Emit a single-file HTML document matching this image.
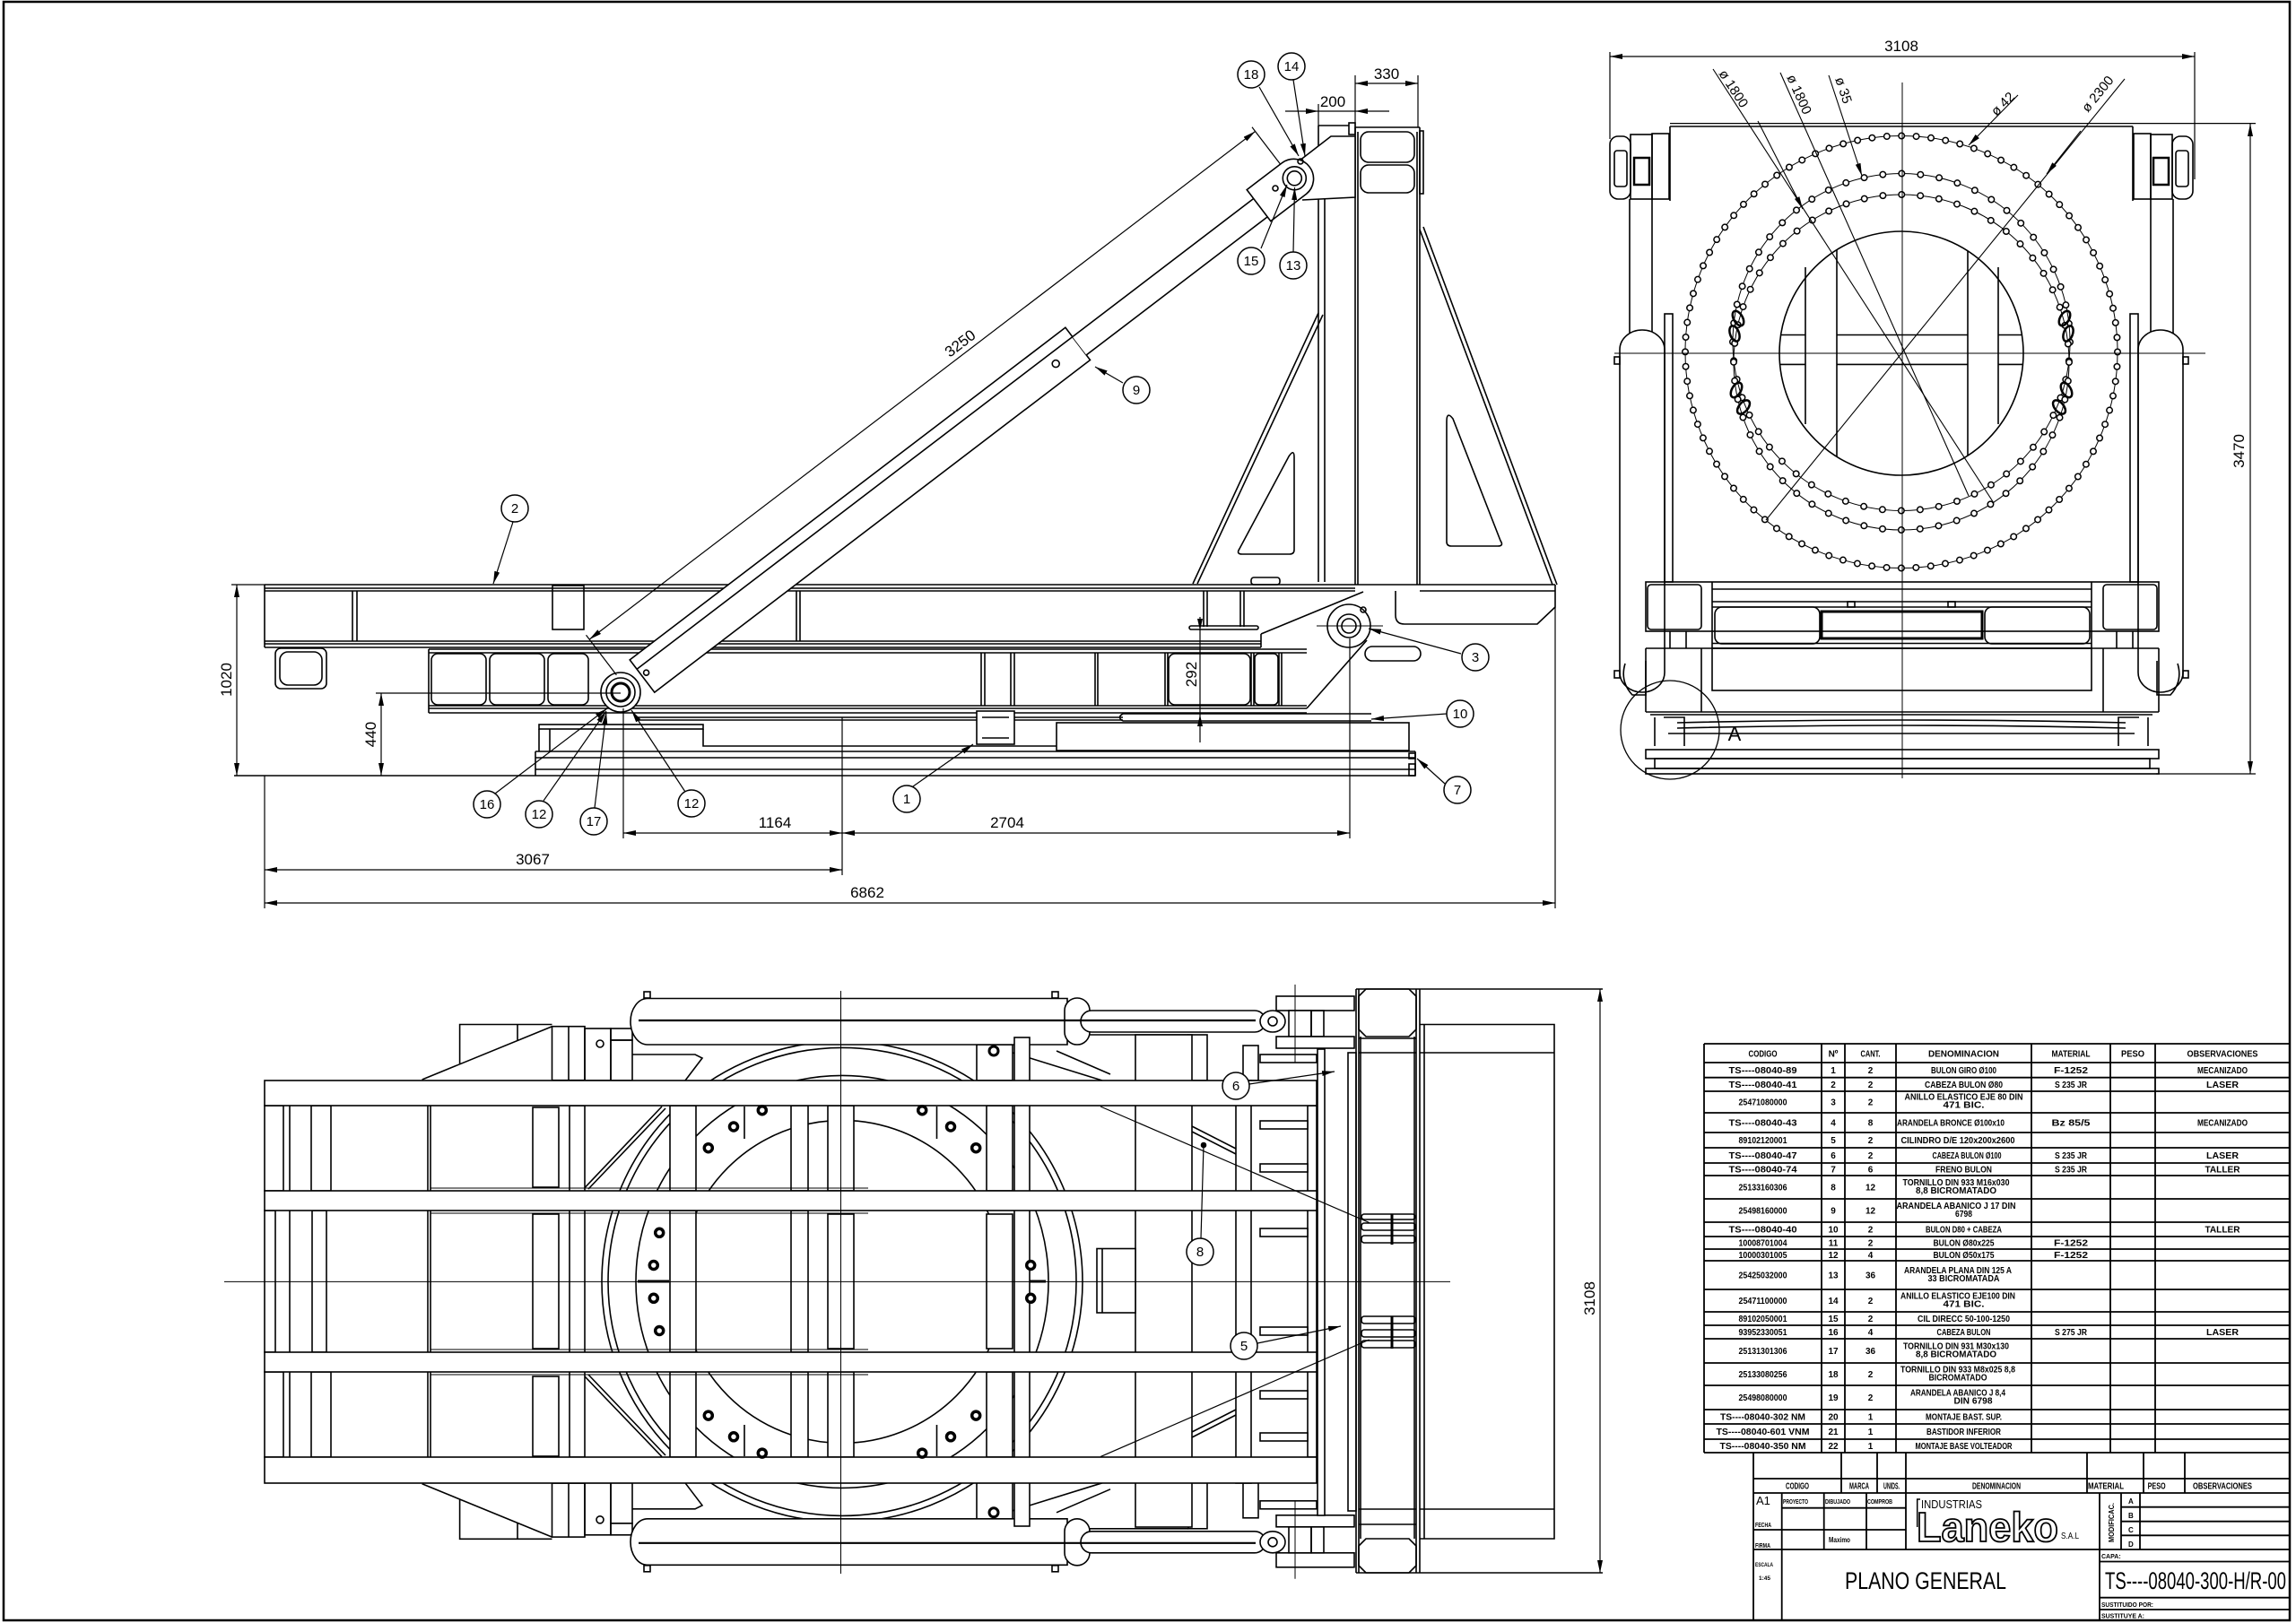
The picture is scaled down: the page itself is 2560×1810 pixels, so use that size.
<!DOCTYPE html>
<html><head><meta charset="utf-8"><style>
html,body{margin:0;padding:0;background:#fff}
svg{display:block}
.n{font-family:"Liberation Sans Narrow","Liberation Sans",sans-serif}
.t{font-family:"Liberation Sans Narrow","Liberation Sans",sans-serif;font-weight:bold;font-size:10px;text-anchor:middle}
.d{font-family:"Liberation Sans Narrow","Liberation Sans",sans-serif;font-size:17px;text-anchor:middle}
.b{font-family:"Liberation Sans Narrow","Liberation Sans",sans-serif;font-size:15px;text-anchor:middle}
</style></head><body>
<svg width="2560" height="1810" viewBox="0 0 2560 1810" xmlns="http://www.w3.org/2000/svg">
<defs>
<marker id="ar" viewBox="0 0 14 6" refX="14" refY="3" markerWidth="14" markerHeight="6" markerUnits="userSpaceOnUse" orient="auto-start-reverse"><path d="M0,0 L14,3 L0,6 z" fill="#000"/></marker>
<clipPath id="ic"><circle cx="2120" cy="394" r="136"/></clipPath>
</defs>
<rect x="0" y="0" width="2560" height="1810" fill="#fff"/>
<!-- page border -->
<rect x="4" y="2" width="2549" height="1805" fill="none" stroke="#000" stroke-width="2.5"/>

<!-- ================= SIDE VIEW ================= -->
<g stroke="#000" fill="none" stroke-width="1.6">
<!-- main beam -->
<path d="M295 652 H1734 M295 656 H1511 M295 659 H1511 M1583 659 H1734 M295 715 H1406 M295 718 H1406 M295 722 H1406 M295 652 V722"/>
<path d="M1734 652 V677 L1714 696 H1566 Q1556 696 1556 686 V659"/>
<path d="M393 659 V715 M398 659 V715 M888 659 V715 M892 659 V715"/>
<rect x="616" y="653" width="35" height="49"/>
<path d="M1342 659 V699 M1346 659 V699 M1383 659 V699 M1387 659 V699"/>
<rect x="1326" y="698" width="77" height="4" rx="2"/>
<rect x="1395" y="644" width="32" height="8" rx="3"/>
<rect x="307" y="723" width="57" height="45" rx="6"/>
<rect x="312" y="727" width="47" height="37" rx="9"/>
<!-- lower frame -->
<path d="M478 724 H1457 M478 728 H1457 M478 787 H1457 M478 790 H1457 M478 795 H1457 M478 724 V795"/>
<rect x="481" y="729" width="61" height="57" rx="7"/>
<rect x="546" y="729" width="61" height="57" rx="7"/>
<rect x="611" y="729" width="45" height="57" rx="7"/>
<path d="M1094 728 V787 M1098 728 V787 M1127 728 V787 M1131 728 V787 M1221 728 V787 M1224 728 V787 M1299 728 V787 M1302 728 V787 M1395 728 V787 M1398 728 V787 M1426 728 V787 M1429 728 V787"/>
<rect x="1303" y="729" width="91" height="57" rx="7"/>
<rect x="1399" y="729" width="26" height="57" rx="5"/>
<!-- lever plate & pin -->
<path d="M1406 707 L1520 660 M1406 707 V722 M1457 790 L1524 714" fill="#fff"/>
<rect x="1522" y="721" width="62" height="16" rx="8"/>
<circle cx="1504" cy="698" r="24" fill="#fff"/>
<circle cx="1504" cy="698" r="13"/>
<circle cx="1504" cy="698" r="8"/>
<circle cx="1520" cy="680" r="3"/>
<path d="M1468 698 H1542" stroke-width="1"/>
<!-- mast -->
<path d="M1470 140 V649 M1477 222 V649 M1470 140 H1504 M1511 142 V652 M1514 147 V652 M1580 147 V652 M1583 142 V652 M1511 142 H1583"/>
<rect x="1517" y="147" width="60" height="34" rx="9"/>
<rect x="1517" y="184" width="60" height="31" rx="9"/>
<rect x="1504" y="137" width="7" height="13"/>
<rect x="1583" y="146" width="4" height="70"/>
<path d="M1440 186 L1484 152 H1511 V220 L1452 223" fill="#fff"/>
<!-- gussets -->
<path d="M1470 349 L1330 651 M1475 351 L1335 651 M1583 256 L1731 652 M1587 253 L1736 652"/>
<path d="M1443 510 V613 Q1443 618 1438 618 H1385 Q1378 618 1382 612 L1437 509 Q1443 500 1443 510 Z"/>
<path d="M1613 470 V604 Q1613 609 1618 609 H1670 Q1677 609 1673 603 L1620 467 Q1613 458 1613 470 Z"/>
<!-- base -->
<path d="M709 800 H1252 M709 803 H1252"/>
<path d="M1252 804 Q1245 800 1252 796 H1529 M1252 804 H1529"/>
<rect x="601" y="808" width="183" height="5"/>
<path d="M784 813 V832 H1178"/>
<rect x="1178" y="806" width="393" height="31"/>
<path d="M597 838 H1578 M597 845 H1578 M597 858 H1578 M261 865 H1578 M597 838 V865 M601 813 V838 M613 813 V838 M1578 838 V865"/>
<rect x="1571" y="840" width="7" height="6"/>
<rect x="1571" y="852" width="7" height="13"/>
<rect x="1089" y="793" width="42" height="37" fill="#fff"/>
<path d="M1095 800 H1125 M1095 823 H1125"/>
<!-- arm (cylinder) -->
<path d="M702.2 735.9 L1187.9 365.3 L1215.5 401.5 L729.8 772.1 Z" fill="#fff"/>
<path d="M710.1 746.2 L1195.8 375.6"/>
<path d="M1195.8 375.6 L1405.7 215.4 L1421.2 235.7 L1211.3 395.9" fill="#fff"/>
<path d="M1390.2 211.6 L1430 181.3 A22 22 0 0 1 1456.6 216.3 L1416.8 246.6 Z" fill="#fff"/>
<circle cx="1443.3" cy="198.8" r="13" fill="#fff"/>
<circle cx="1443.3" cy="198.8" r="8"/>
<circle cx="1422" cy="210" r="3"/>
<circle cx="1450" cy="180" r="3"/>
<circle cx="1177.2" cy="405.6" r="4"/>
<circle cx="692" cy="772" r="22" fill="#fff"/>
<circle cx="692" cy="772" r="16"/>
<circle cx="692" cy="772" r="10" stroke-width="3"/>
<circle cx="720.6" cy="750.2" r="3"/>
<!-- dimension 3250 -->
<path d="M657.1 713.1 L1399.6 146.5" stroke-width="1.2" marker-start="url(#ar)" marker-end="url(#ar)"/>
<path d="M653.5 708.3 L687.4 752.8 M1396 141.8 L1427.6 183.1" stroke-width="1.2"/>
<!-- dimensions -->
<g stroke-width="1.2">
<path d="M695 929 H939" marker-start="url(#ar)" marker-end="url(#ar)"/>
<path d="M939 929 H1505" marker-start="url(#ar)" marker-end="url(#ar)"/>
<path d="M295 970 H939" marker-start="url(#ar)" marker-end="url(#ar)"/>
<path d="M295 1007 H1734" marker-start="url(#ar)" marker-end="url(#ar)"/>
<path d="M264 652 V865" marker-start="url(#ar)" marker-end="url(#ar)"/>
<path d="M425 773 V865" marker-start="url(#ar)" marker-end="url(#ar)"/>
<path d="M1511 93 H1581" marker-start="url(#ar)" marker-end="url(#ar)"/>
<path d="M1433 124 H1549"/>
<path d="M1338 688 V828"/>
<path d="M295 865 V1013 M695 790 V935 M939 800 V976 M1505 712 V935 M1734 677 V1013 M258 652 H295 M419 773 H692 M1470 116 V140 M1511 84 V142 M1581 84 V142"/>
</g>
<path d="M1470 124 L1456 121 L1456 127 Z M1511 124 L1525 121 L1525 127 Z M1338 703 L1335 690 L1341 690 Z M1338 797 L1335 810 L1341 810 Z" fill="#000" stroke="none"/>
<!-- leaders -->
<g stroke-width="1.2">
<path d="M572 582 L550 651" marker-end="url(#ar)"/>
<path d="M552 885 L677 790" marker-end="url(#ar)"/>
<path d="M606 893 L676 793" marker-end="url(#ar)"/>
<path d="M663 901 L676 794" marker-end="url(#ar)"/>
<path d="M764 883 L704 792" marker-end="url(#ar)"/>
<path d="M1018 877 L1085 830" marker-end="url(#ar)"/>
<path d="M1404 97 L1448 174" marker-end="url(#ar)"/>
<path d="M1442 89 L1455 174" marker-end="url(#ar)"/>
<path d="M1406 277 L1435 206" marker-end="url(#ar)"/>
<path d="M1442 281 L1443.5 209" marker-end="url(#ar)"/>
<path d="M1252 427 L1221 409" marker-end="url(#ar)"/>
<path d="M1629 729 L1526 701" marker-end="url(#ar)"/>
<path d="M1613 796 L1529 802" marker-end="url(#ar)"/>
<path d="M1611 874 L1580 846" marker-end="url(#ar)"/>
</g>
<g fill="#fff" stroke-width="1.5">
<circle cx="574" cy="567" r="15"/><circle cx="543" cy="897" r="15"/><circle cx="601" cy="908" r="15"/><circle cx="662" cy="916" r="15"/><circle cx="771" cy="896" r="15"/><circle cx="1011" cy="891" r="15"/>
<circle cx="1395" cy="83" r="15"/><circle cx="1440" cy="74" r="15"/><circle cx="1395" cy="291" r="15"/><circle cx="1442" cy="296" r="15"/><circle cx="1267" cy="435" r="15"/><circle cx="1645" cy="733" r="15"/><circle cx="1628" cy="796" r="15"/><circle cx="1625" cy="881" r="15"/>
</g>
</g>
<g class="b" fill="#000">
<text x="574" y="572">2</text><text x="543" y="902">16</text><text x="601" y="913">12</text><text x="662" y="921">17</text><text x="771" y="901">12</text><text x="1011" y="896">1</text>
<text x="1395" y="88">18</text><text x="1440" y="79">14</text><text x="1395" y="296">15</text><text x="1442" y="301">13</text><text x="1267" y="440">9</text><text x="1645" y="738">3</text><text x="1628" y="801">10</text><text x="1625" y="886">7</text>
</g>
<g class="d" fill="#000">
<text x="864" y="923">1164</text>
<text x="1123" y="923">2704</text>
<text x="594" y="964">3067</text>
<text x="967" y="1001">6862</text>
<text x="1486" y="119">200</text>
<text x="1546" y="88">330</text>
<text transform="translate(258 758) rotate(-90)">1020</text>
<text transform="translate(419 819) rotate(-90)">440</text>
<text transform="translate(1334 752) rotate(-90)">292</text>
<text transform="translate(1074 387.5) rotate(-37.34)">3250</text>
</g>

<!-- ================= FRONT VIEW ================= -->
<g stroke="#000" fill="none" stroke-width="1.6">
<path d="M1862 141 H2378 M1862 141 V224 M2378 141 V224"/>
<g id="rvl">
<rect x="1795" y="152" width="23" height="70" rx="9"/>
<rect x="1818" y="150" width="24" height="72"/>
<rect x="1842" y="149" width="19" height="73"/>
<rect x="1822" y="176" width="17" height="30" stroke-width="2.5"/>
<rect x="1800" y="168" width="14" height="40" rx="3"/>
<path d="M1817 222 V372 M1842 222 V372"/>
<rect x="1806" y="368" width="50" height="404" rx="25" ry="22" fill="#fff"/>
<rect x="1856" y="350" width="9" height="299"/>
<rect x="1800" y="398" width="6" height="8"/>
<rect x="1800" y="748" width="6" height="8"/>
<path d="M1812 740 Q1806 760 1820 775 H1835 V737"/>
</g>
<g transform="matrix(-1 0 0 1 4240 0)">
<rect x="1795" y="152" width="23" height="70" rx="9"/>
<rect x="1818" y="150" width="24" height="72"/>
<rect x="1842" y="149" width="19" height="73"/>
<rect x="1822" y="176" width="17" height="30" stroke-width="2.5"/>
<rect x="1800" y="168" width="14" height="40" rx="3"/>
<path d="M1817 222 V372 M1842 222 V372"/>
<rect x="1806" y="368" width="50" height="404" rx="25" ry="22" fill="#fff"/>
<rect x="1856" y="350" width="9" height="299"/>
<rect x="1800" y="398" width="6" height="8"/>
<rect x="1800" y="748" width="6" height="8"/>
<path d="M1812 740 Q1806 760 1820 775 H1835 V737"/>
</g>
<!-- bolt rings -->
<circle cx="2120" cy="392.5" r="241" stroke-width="1"/>
<circle cx="2120" cy="392.5" r="241" stroke-width="8" stroke-linecap="round" stroke-dasharray="0 16.459"/>
<circle cx="2120" cy="392.5" r="241" stroke="#fff" stroke-width="5" stroke-linecap="round" stroke-dasharray="0 16.459"/>
<circle cx="2120" cy="381.5" r="188" stroke-width="1"/>
<circle cx="2120" cy="381.5" r="188" stroke-width="8" stroke-linecap="round" stroke-dasharray="0 21.093"/>
<circle cx="2120" cy="381.5" r="188" stroke="#fff" stroke-width="5" stroke-linecap="round" stroke-dasharray="0 21.093"/>
<circle cx="2120" cy="404" r="187" stroke-width="1"/>
<circle cx="2120" cy="404" r="187" stroke-width="8" stroke-linecap="round" stroke-dasharray="0 20.98"/>
<circle cx="2120" cy="404" r="187" stroke="#fff" stroke-width="5" stroke-linecap="round" stroke-dasharray="0 20.98"/>
<g stroke-width="2.5">
<ellipse cx="1938" cy="355" rx="5" ry="9" transform="rotate(-30 1938 355)"/>
<ellipse cx="1934" cy="372" rx="5" ry="9" transform="rotate(-20 1934 372)"/>
<ellipse cx="1936" cy="435" rx="5" ry="9" transform="rotate(30 1936 435)"/>
<ellipse cx="1944" cy="454" rx="5" ry="9" transform="rotate(40 1944 454)"/>
<ellipse cx="2302" cy="355" rx="5" ry="9" transform="rotate(30 2302 355)"/>
<ellipse cx="2306" cy="372" rx="5" ry="9" transform="rotate(20 2306 372)"/>
<ellipse cx="2304" cy="435" rx="5" ry="9" transform="rotate(-30 2304 435)"/>
<ellipse cx="2296" cy="454" rx="5" ry="9" transform="rotate(-40 2296 454)"/>
</g>
<circle cx="2120" cy="394" r="136"/>
<g clip-path="url(#ic)">
<path d="M2048 250 V540 M2194 250 V540 M1980 373.5 H2013 M2048 373.5 H2194 M2228 373.5 H2260 M1980 406.4 H2013 M2048 406.4 H2194 M2228 406.4 H2260"/>
</g>
<path d="M2013 298 V473 M2228 298 V473"/>
<!-- center lines -->
<path d="M2121 92 V868 M1800 394 H2459" stroke-width="1"/>
<!-- diameter leaders -->
<g stroke-width="1.1">
<path d="M1910 77 L2223 561"/>
<path d="M1985 81 L2195 553"/>
<path d="M2039 84 L2076 196" marker-end="url(#ar)"/>
<path d="M2250 106 L2195 162" marker-end="url(#ar)"/>
<path d="M2369 88 L1969 580"/>
<path d="M2320 146 L2282 194" marker-end="url(#ar)"/>
<path d="M1960 135 L2010 233" marker-end="url(#ar)"/>
</g>
<!-- lower base -->
<rect x="1835" y="649" width="572" height="55"/>
<rect x="1837" y="652" width="60" height="50" rx="4"/>
<rect x="2345" y="652" width="60" height="50" rx="4"/>
<path d="M1909 649 V723 M2332 649 V723 M1909 657 H2332 M1909 671 H2332 M1909 677 H2332 M1909 717.5 H2332 M1909 723 H2332"/>
<rect x="1912" y="677" width="117" height="41" rx="8"/>
<rect x="2031" y="682" width="179" height="30" stroke-width="3"/>
<rect x="2213" y="677" width="117" height="41" rx="8"/>
<rect x="2060" y="671" width="8" height="6"/><rect x="2172" y="671" width="8" height="6"/>
<path d="M1862 704 V723 M1880 704 V723 M2360 704 V723 M2378 704 V723"/>
<path d="M1835 723 H2407 M1835 794 H2407 M1835 723 V794 M2407 723 V794 M1897 723 V794 M2345 723 V794"/>
<rect x="1909" y="723" width="423" height="47"/>
<path d="M1840 797 H2400 M1845 800 V832 M2395 800 V832 M1870 806 Q2120 800 2370 806 M1870 812 Q2120 806 2370 812 M1860 818 H2380 M1855 800 H1878 V832 M2385 800 H2362 V832"/>
<rect x="1835" y="836" width="572" height="10"/>
<rect x="1845" y="846" width="552" height="11"/>
<rect x="1835" y="857" width="572" height="6"/>
<circle cx="1862" cy="814" r="55" stroke-width="1.3"/>
<!-- dims -->
<g stroke-width="1.2">
<path d="M1795 63 H2447" marker-start="url(#ar)" marker-end="url(#ar)"/>
<path d="M2509 138 V863" marker-start="url(#ar)" marker-end="url(#ar)"/>
<path d="M1795 58 V155 M2447 58 V200 M1862 137.6 H2515 M2404 863 H2515"/>
</g>
</g>
<g class="d" fill="#000">
<text x="2120" y="57">3108</text>
<text transform="translate(2502 503) rotate(-90)">3470</text>
<text x="1934" y="826" font-size="22">A</text>
</g>
<g class="n" fill="#000" font-size="15">
<text transform="translate(1916 82) rotate(57)">ø 1800</text>
<text transform="translate(1992 86) rotate(66)">ø 1800</text>
<text transform="translate(2046 88) rotate(71.6)">ø 35</text>
<text transform="translate(2226 130) rotate(-45)">ø 42</text>
<text transform="translate(2328 126) rotate(-51)">ø 2300</text>
</g>

<!-- ================= TOP VIEW ================= -->
<g stroke="#000" fill="none" stroke-width="1.6">
<!-- ring -->
<circle cx="939" cy="1429.4" r="268"/>
<circle cx="939" cy="1429.4" r="261"/>
<circle cx="939" cy="1429.4" r="230"/>
<circle cx="939" cy="1429.4" r="180"/>
<!-- top cylinder group (mirrored below) -->
<g id="tvtop">
<path d="M470.6 1204 L615.5 1144.7 M512.6 1186 V1142.5 H615.5 M577 1142.5 V1160"/>
<rect x="615.5" y="1144.7" width="36.5" height="60" fill="#fff"/>
<path d="M634 1144.7 V1204.7"/>
<rect x="652" y="1147" width="29" height="58"/>
<circle cx="669" cy="1164" r="4"/>
<rect x="681" y="1147" width="24" height="13"/>
<rect x="681" y="1160" width="24" height="45"/>
<path d="M705 1176 H775 L783 1180 L764 1205"/>
<path d="M1129 1174 L1229 1205 M1178 1172 L1238 1198"/>
<rect x="1089" y="1165" width="40" height="40"/>
<circle cx="1108" cy="1172" r="5" stroke-width="3"/>
<path d="M1211 1154 H1325"/>
<rect x="1325" y="1154" width="21" height="51"/>
<rect x="1386" y="1166" width="17" height="39"/>
<rect x="1405" y="1176" width="63" height="9"/>
<path d="M722 1113.5 H1190 V1165 H722 A19 25.75 0 0 1 722 1113.5 Z" fill="#fff"/>
<rect x="1187" y="1113" width="28" height="52" rx="14" fill="#fff"/>
<rect x="1205" y="1127" width="206" height="24" rx="12" fill="#fff"/>
<path d="M712 1138 H1400" stroke-width="2.2"/>
<rect x="718" y="1106" width="7" height="7"/>
<rect x="1173" y="1106" width="7" height="7"/>
<rect x="1423" y="1111" width="87" height="16" fill="#fff"/>
<rect x="1437" y="1127" width="25" height="29" fill="#fff"/>
<rect x="1462" y="1127" width="14" height="29"/>
<rect x="1423" y="1156" width="87" height="13" fill="#fff"/>
<ellipse cx="1419" cy="1139" rx="14" ry="12" fill="#fff"/>
<circle cx="1419" cy="1139" r="5"/>
<path d="M1444 1098 V1185" stroke-width="1"/>
</g>
<g transform="matrix(1 0 0 -1 0 2858.8)">
<path d="M470.6 1204 L615.5 1144.7 M512.6 1186 V1142.5 H615.5 M577 1142.5 V1160"/>
<rect x="615.5" y="1144.7" width="36.5" height="60" fill="#fff"/>
<path d="M634 1144.7 V1204.7"/>
<rect x="652" y="1147" width="29" height="58"/>
<circle cx="669" cy="1164" r="4"/>
<rect x="681" y="1147" width="24" height="13"/>
<rect x="681" y="1160" width="24" height="45"/>
<path d="M705 1176 H775 L783 1180 L764 1205"/>
<path d="M1129 1174 L1229 1205 M1178 1172 L1238 1198"/>
<rect x="1089" y="1165" width="40" height="40"/>
<circle cx="1108" cy="1172" r="5" stroke-width="3"/>
<path d="M1211 1154 H1325"/>
<rect x="1325" y="1154" width="21" height="51"/>
<rect x="1386" y="1166" width="17" height="39"/>
<rect x="1405" y="1176" width="63" height="9"/>
<path d="M722 1113.5 H1190 V1165 H722 A19 25.75 0 0 1 722 1113.5 Z" fill="#fff"/>
<rect x="1187" y="1113" width="28" height="52" rx="14" fill="#fff"/>
<rect x="1205" y="1127" width="206" height="24" rx="12" fill="#fff"/>
<path d="M712 1138 H1400" stroke-width="2.2"/>
<rect x="718" y="1106" width="7" height="7"/>
<rect x="1173" y="1106" width="7" height="7"/>
<rect x="1423" y="1111" width="87" height="16" fill="#fff"/>
<rect x="1437" y="1127" width="25" height="29" fill="#fff"/>
<rect x="1462" y="1127" width="14" height="29"/>
<rect x="1423" y="1156" width="87" height="13" fill="#fff"/>
<ellipse cx="1419" cy="1139" rx="14" ry="12" fill="#fff"/>
<circle cx="1419" cy="1139" r="5"/>
<path d="M1444 1098 V1185" stroke-width="1"/>
</g>
<!-- members between beams -->
<g fill="#fff">
<rect x="295" y="1233" width="21" height="95"/><rect x="347" y="1233" width="22" height="95"/>
<rect x="295" y="1530" width="21" height="95"/><rect x="347" y="1530" width="22" height="95"/>
<rect x="295" y="1350" width="12" height="158"/><rect x="348" y="1350" width="16" height="158"/>
<rect x="594" y="1235" width="29" height="89"/><rect x="594" y="1354" width="29" height="150"/><rect x="594" y="1535" width="29" height="89"/>
<rect x="635" y="1233" width="17" height="392"/>
<rect x="747" y="1233" width="29" height="95"/><rect x="747" y="1350" width="29" height="158"/><rect x="747" y="1530" width="29" height="95"/>
<rect x="882" y="1233" width="19" height="95"/><rect x="882" y="1350" width="19" height="158"/><rect x="882" y="1530" width="19" height="95"/>
<rect x="923" y="1233" width="29" height="95"/><rect x="923" y="1354" width="29" height="150"/><rect x="923" y="1530" width="29" height="95"/>
<rect x="1100" y="1233" width="29" height="95"/><rect x="1100" y="1354" width="29" height="150"/><rect x="1100" y="1530" width="29" height="95"/>
<rect x="1131" y="1157" width="17" height="545"/>
<rect x="1266" y="1154" width="63" height="549"/>
<rect x="1378" y="1205" width="17" height="449"/>
<rect x="1458" y="1233" width="10" height="392"/>
</g>
<path d="M323 1233 V1625 M477 1233 V1625 M480 1233 V1625"/>
<path d="M480 1325 H968 M480 1353 H968 M480 1505 H968 M480 1533 H968" stroke-width="1"/>
<!-- beams -->
<rect x="295" y="1205" width="1173" height="28" fill="#fff"/>
<rect x="295" y="1328" width="1173" height="22" fill="#fff"/>
<rect x="295" y="1508" width="1173" height="22" fill="#fff"/>
<rect x="295" y="1625" width="1173" height="29" fill="#fff"/>
<!-- fingers -->
<g fill="#fff">
<rect x="1405" y="1250" width="53" height="9"/><rect x="1405" y="1298" width="53" height="9"/><rect x="1405" y="1370" width="53" height="9"/><rect x="1405" y="1480" width="53" height="9"/><rect x="1405" y="1551" width="53" height="9"/><rect x="1405" y="1598" width="53" height="9"/>
</g>
<!-- bolt holes -->
<g stroke-width="3.5" fill="#fff">
<circle cx="735.2" cy="1484" r="4.5"/><circle cx="728.8" cy="1447.8" r="4.5"/><circle cx="728.8" cy="1411" r="4.5"/><circle cx="735.2" cy="1374.8" r="4.5"/>
<circle cx="789.8" cy="1280.2" r="4.5"/><circle cx="818" cy="1256.5" r="4.5"/><circle cx="849.8" cy="1238.2" r="4.5"/>
<circle cx="1028.2" cy="1238.2" r="4.5"/><circle cx="1060" cy="1256.5" r="4.5"/><circle cx="1088.2" cy="1280.2" r="4.5"/>
<circle cx="1149.2" cy="1411" r="4.5"/><circle cx="1149.2" cy="1447.8" r="4.5"/>
<circle cx="1088.2" cy="1578.6" r="4.5"/><circle cx="1060" cy="1602.3" r="4.5"/><circle cx="1028.2" cy="1620.6" r="4.5"/>
<circle cx="849.8" cy="1620.6" r="4.5"/><circle cx="818" cy="1602.3" r="4.5"/><circle cx="789.8" cy="1578.6" r="4.5"/>
</g>
<path d="M711 1429 H746 M1148 1429 H1166" stroke-width="3"/>
<path d="M830 1234 V1270 M1044.5 1234 V1270 M830 1589 V1624 M1044.5 1589 V1624"/>
<!-- diagonals -->
<path d="M652 1324.6 L738 1234 M656 1326 L742 1236 M652 1535 L738 1624.6 M656 1533 L742 1623"/>
<path d="M1329 1256 L1378 1281 M1329 1262 L1378 1287 M1329 1603 L1378 1578 M1329 1597 L1378 1572"/>
<rect x="1223" y="1392.5" width="43" height="71.5" fill="#fff"/>
<path d="M1229 1392.5 V1464"/>
<!-- right part -->
<rect x="1469" y="1170" width="8" height="520" fill="#fff"/>
<rect x="1503" y="1174" width="9" height="511" fill="#fff"/>
<path d="M1512 1103 V1754 M1515 1103 V1754 M1517 1156 V1716 M1577 1156 V1716 M1579 1103 V1754 M1583 1103 V1754"/>
<path d="M1523 1103 H1571 L1579 1111 V1148 L1571 1156 H1523 L1515 1148 V1111 Z"/>
<path d="M1523 1754 H1571 L1579 1746 V1724 L1571 1716 H1523 L1515 1724 V1746 Z"/>
<path d="M1515 1158 H1579 M1515 1174 H1579 M1515 1683 H1579 M1515 1700 H1579"/>
<rect x="1518" y="1354" width="60" height="6" rx="3"/><rect x="1518" y="1364" width="60" height="8" rx="3"/><rect x="1518" y="1378" width="60" height="8" rx="3"/>
<rect x="1518" y="1468" width="60" height="8" rx="3"/><rect x="1518" y="1483" width="60" height="8" rx="3"/><rect x="1518" y="1495" width="60" height="8" rx="3"/>
<path d="M1552 1354 V1388 M1552 1468 V1504" stroke-width="3"/>
<path d="M1512 1103 H1787 M1512 1754 H1787 M1583 1142.5 H1733 V1716 H1583 M1583 1174 H1733 M1583 1683 H1733 M1588 1142.5 V1716"/>
<path d="M1784 1103 V1754" stroke-width="1.2" marker-start="url(#ar)" marker-end="url(#ar)"/>
<!-- center lines -->
<path d="M250 1429.4 H1617 M937.5 1105 V1755" stroke-width="1"/>
<!-- long leaders -->
<path d="M1227 1234 L1526.7 1363.5 M1227 1624.6 L1526.7 1494" stroke-width="1.2"/>
<path d="M1393 1209 L1488 1195" stroke-width="1.2" marker-end="url(#ar)"/>
<path d="M1339 1381 L1342 1277" stroke-width="1.2"/>
<circle cx="1342" cy="1277" r="2.5" fill="#000"/>
<path d="M1402 1498 L1495 1479" stroke-width="1.2" marker-end="url(#ar)"/>
<g fill="#fff" stroke-width="1.5">
<circle cx="1378" cy="1211" r="15"/><circle cx="1338" cy="1396" r="15"/><circle cx="1387" cy="1501" r="15"/>
</g>
</g>
<g class="b" fill="#000">
<text x="1378" y="1216">6</text><text x="1338" y="1401">8</text><text x="1387" y="1506">5</text>
</g>
<text class="d" transform="translate(1778 1448) rotate(-90)" fill="#000">3108</text>

<!-- ================= PARTS TABLE ================= -->
<g stroke="#000" stroke-width="1.8" fill="none">
<path d="M1900 1164 H2553 M1900 1185 H2553 M1900 1201.7 H2553 M1900 1217 H2553 M1900 1241 H2553 M1900 1263 H2553 M1900 1280 H2553 M1900 1297 H2553 M1900 1311 H2553 M1900 1337 H2553 M1900 1363 H2553 M1900 1379 H2553 M1900 1393 H2553 M1900 1406 H2553 M1900 1438 H2553 M1900 1463 H2553 M1900 1478 H2553 M1900 1493 H2553 M1900 1520 H2553 M1900 1545 H2553 M1900 1572 H2553 M1900 1588 H2553 M1900 1605 H2553 M1900 1620 H2553"/>
<path d="M1900 1164 V1620 M2031 1164 V1620 M2057 1164 V1620 M2114 1164 V1620 M2265 1164 V1620 M2353 1164 V1620 M2403 1164 V1620"/>
</g>
<g class="t" fill="#000" lengthAdjust="spacingAndGlyphs">
<text x="1965.5" y="1178.5" textLength="32" lengthAdjust="spacingAndGlyphs">CODIGO</text><text x="2044" y="1178.5">Nº</text><text x="2085.5" y="1178.5" textLength="22" lengthAdjust="spacingAndGlyphs">CANT.</text><text x="2189.5" y="1178.5" textLength="79" lengthAdjust="spacingAndGlyphs">DENOMINACION</text><text x="2309" y="1178.5" textLength="43" lengthAdjust="spacingAndGlyphs">MATERIAL</text><text x="2378" y="1178.5" textLength="26" lengthAdjust="spacingAndGlyphs">PESO</text><text x="2478" y="1178.5" textLength="79" lengthAdjust="spacingAndGlyphs">OBSERVACIONES</text>

<text x="1965.5" y="1197" textLength="76" lengthAdjust="spacingAndGlyphs">TS----08040-89</text><text x="2044" y="1197">1</text><text x="2085.5" y="1197">2</text><text x="2189.5" y="1197" textLength="73" lengthAdjust="spacingAndGlyphs">BULON GIRO Ø100</text><text x="2309" y="1197" textLength="38" lengthAdjust="spacingAndGlyphs">F-1252</text><text x="2478" y="1197" textLength="56" lengthAdjust="spacingAndGlyphs">MECANIZADO</text>

<text x="1965.5" y="1213" textLength="76" lengthAdjust="spacingAndGlyphs">TS----08040-41</text><text x="2044" y="1213">2</text><text x="2085.5" y="1213">2</text><text x="2189.5" y="1213" textLength="87" lengthAdjust="spacingAndGlyphs">CABEZA BULON  Ø80</text><text x="2309" y="1213" textLength="36" lengthAdjust="spacingAndGlyphs">S 235 JR</text><text x="2478" y="1213" textLength="36" lengthAdjust="spacingAndGlyphs">LASER</text>

<text x="1965.5" y="1232.5" textLength="54" lengthAdjust="spacingAndGlyphs">25471080000</text><text x="2044" y="1232.5">3</text><text x="2085.5" y="1232.5">2</text><text x="2189.5" y="1226.5" textLength="132" lengthAdjust="spacingAndGlyphs">ANILLO ELASTICO EJE 80 DIN</text><text x="2189.5" y="1235.5" textLength="46" lengthAdjust="spacingAndGlyphs">471 BIC.</text>

<text x="1965.5" y="1255.7" textLength="76" lengthAdjust="spacingAndGlyphs">TS----08040-43</text><text x="2044" y="1255.7">4</text><text x="2085.5" y="1255.7">8</text><text x="2175" y="1255.7" textLength="120" lengthAdjust="spacingAndGlyphs">ARANDELA BRONCE Ø100x10</text><text x="2309" y="1255.7" textLength="43" lengthAdjust="spacingAndGlyphs">Bz 85/5</text><text x="2478" y="1255.7" textLength="56" lengthAdjust="spacingAndGlyphs">MECANIZADO</text>

<text x="1965.5" y="1275" textLength="54" lengthAdjust="spacingAndGlyphs">89102120001</text><text x="2044" y="1275">5</text><text x="2085.5" y="1275">2</text><text x="2183" y="1275" textLength="127" lengthAdjust="spacingAndGlyphs">CILINDRO D/E 120x200x2600</text>

<text x="1965.5" y="1292" textLength="76" lengthAdjust="spacingAndGlyphs">TS----08040-47</text><text x="2044" y="1292">6</text><text x="2085.5" y="1292">2</text><text x="2193" y="1292" textLength="77" lengthAdjust="spacingAndGlyphs">CABEZA BULON  Ø100</text><text x="2309" y="1292" textLength="36" lengthAdjust="spacingAndGlyphs">S 235 JR</text><text x="2478" y="1292" textLength="36" lengthAdjust="spacingAndGlyphs">LASER</text>

<text x="1965.5" y="1307.5" textLength="76" lengthAdjust="spacingAndGlyphs">TS----08040-74</text><text x="2044" y="1307.5">7</text><text x="2085.5" y="1307.5">6</text><text x="2189.5" y="1307.5" textLength="63" lengthAdjust="spacingAndGlyphs">FRENO BULON</text><text x="2309" y="1307.5" textLength="36" lengthAdjust="spacingAndGlyphs">S 235 JR</text><text x="2478" y="1307.5" textLength="39" lengthAdjust="spacingAndGlyphs">TALLER</text>

<text x="1965.5" y="1327.5" textLength="54" lengthAdjust="spacingAndGlyphs">25133160306</text><text x="2044" y="1327.5">8</text><text x="2085.5" y="1327.5">12</text><text x="2181" y="1322" textLength="119" lengthAdjust="spacingAndGlyphs">TORNILLO DIN 933 M16x030</text><text x="2181" y="1331" textLength="90" lengthAdjust="spacingAndGlyphs">8,8 BICROMATADO</text>

<text x="1965.5" y="1353.5" textLength="54" lengthAdjust="spacingAndGlyphs">25498160000</text><text x="2044" y="1353.5">9</text><text x="2085.5" y="1353.5">12</text><text x="2181" y="1348" textLength="133" lengthAdjust="spacingAndGlyphs">ARANDELA ABANICO J 17 DIN</text><text x="2189.5" y="1357" textLength="19" lengthAdjust="spacingAndGlyphs">6798</text>

<text x="1965.5" y="1374.5" textLength="76" lengthAdjust="spacingAndGlyphs">TS----08040-40</text><text x="2044" y="1374.5">10</text><text x="2085.5" y="1374.5">2</text><text x="2189.5" y="1374.5" textLength="85" lengthAdjust="spacingAndGlyphs">BULON D80 + CABEZA</text><text x="2478" y="1374.5" textLength="39" lengthAdjust="spacingAndGlyphs">TALLER</text>

<text x="1965.5" y="1389.5" textLength="54" lengthAdjust="spacingAndGlyphs">10008701004</text><text x="2044" y="1389.5">11</text><text x="2085.5" y="1389.5">2</text><text x="2189.5" y="1389.5" textLength="68" lengthAdjust="spacingAndGlyphs">BULON Ø80x225</text><text x="2309" y="1389.5" textLength="38" lengthAdjust="spacingAndGlyphs">F-1252</text>

<text x="1965.5" y="1403" textLength="54" lengthAdjust="spacingAndGlyphs">10000301005</text><text x="2044" y="1403">12</text><text x="2085.5" y="1403">4</text><text x="2189.5" y="1403" textLength="68" lengthAdjust="spacingAndGlyphs">BULON Ø50x175</text><text x="2309" y="1403" textLength="38" lengthAdjust="spacingAndGlyphs">F-1252</text>

<text x="1965.5" y="1425.5" textLength="54" lengthAdjust="spacingAndGlyphs">25425032000</text><text x="2044" y="1425.5">13</text><text x="2085.5" y="1425.5">36</text><text x="2183" y="1420" textLength="120" lengthAdjust="spacingAndGlyphs">ARANDELA PLANA DIN 125 A</text><text x="2189.5" y="1429" textLength="80" lengthAdjust="spacingAndGlyphs">33 BICROMATADA</text>

<text x="1965.5" y="1454" textLength="54" lengthAdjust="spacingAndGlyphs">25471100000</text><text x="2044" y="1454">14</text><text x="2085.5" y="1454">2</text><text x="2183" y="1448.5" textLength="128" lengthAdjust="spacingAndGlyphs">ANILLO ELASTICO EJE100 DIN</text><text x="2189.5" y="1457.5" textLength="46" lengthAdjust="spacingAndGlyphs">471 BIC.</text>

<text x="1965.5" y="1474" textLength="54" lengthAdjust="spacingAndGlyphs">89102050001</text><text x="2044" y="1474">15</text><text x="2085.5" y="1474">2</text><text x="2189.5" y="1474" textLength="103" lengthAdjust="spacingAndGlyphs">CIL DIRECC 50-100-1250</text>

<text x="1965.5" y="1489" textLength="54" lengthAdjust="spacingAndGlyphs">93952330051</text><text x="2044" y="1489">16</text><text x="2085.5" y="1489">4</text><text x="2189.5" y="1489" textLength="60" lengthAdjust="spacingAndGlyphs">CABEZA BULON</text><text x="2309" y="1489" textLength="36" lengthAdjust="spacingAndGlyphs">S 275 JR</text><text x="2478" y="1489" textLength="36" lengthAdjust="spacingAndGlyphs">LASER</text>

<text x="1965.5" y="1510" textLength="54" lengthAdjust="spacingAndGlyphs">25131301306</text><text x="2044" y="1510">17</text><text x="2085.5" y="1510">36</text><text x="2181" y="1504.5" textLength="118" lengthAdjust="spacingAndGlyphs">TORNILLO DIN 931 M30x130</text><text x="2181" y="1513.5" textLength="90" lengthAdjust="spacingAndGlyphs">8,8 BICROMATADO</text>

<text x="1965.5" y="1536" textLength="54" lengthAdjust="spacingAndGlyphs">25133080256</text><text x="2044" y="1536">18</text><text x="2085.5" y="1536">2</text><text x="2183" y="1530.5" textLength="128" lengthAdjust="spacingAndGlyphs">TORNILLO DIN 933 M8x025 8,8</text><text x="2183" y="1539.5" textLength="65" lengthAdjust="spacingAndGlyphs">BICROMATADO</text>

<text x="1965.5" y="1562" textLength="54" lengthAdjust="spacingAndGlyphs">25498080000</text><text x="2044" y="1562">19</text><text x="2085.5" y="1562">2</text><text x="2183" y="1556.5" textLength="106" lengthAdjust="spacingAndGlyphs">ARANDELA ABANICO J 8,4</text><text x="2200" y="1565.5" textLength="43" lengthAdjust="spacingAndGlyphs">DIN 6798</text>

<text x="1965.5" y="1583.5" textLength="95" lengthAdjust="spacingAndGlyphs">TS----08040-302 NM</text><text x="2044" y="1583.5">20</text><text x="2085.5" y="1583.5">1</text><text x="2189.5" y="1583.5" textLength="85" lengthAdjust="spacingAndGlyphs">MONTAJE BAST. SUP.</text>

<text x="1965.5" y="1600" textLength="104" lengthAdjust="spacingAndGlyphs">TS----08040-601 VNM</text><text x="2044" y="1600">21</text><text x="2085.5" y="1600">1</text><text x="2189.5" y="1600" textLength="83" lengthAdjust="spacingAndGlyphs">BASTIDOR INFERIOR</text>

<text x="1965.5" y="1616" textLength="96" lengthAdjust="spacingAndGlyphs">TS----08040-350 NM</text><text x="2044" y="1616">22</text><text x="2085.5" y="1616">1</text><text x="2189.5" y="1616" textLength="108" lengthAdjust="spacingAndGlyphs">MONTAJE BASE VOLTEADOR</text>
</g>

<!-- ================= TITLE BLOCK ================= -->
<g stroke="#000" stroke-width="1.8" fill="none">
<path d="M1955 1620 V1807 M1955 1649 H2553 M1955 1665 H2553 M1955 1728 H2553"/>
<path d="M2053 1620 V1665 M2093 1620 V1665 M2125 1620 V1665 M2327 1620 V1665 M2390 1620 V1665 M2436 1620 V1665"/>
<path d="M1986.7 1665 V1807 M2033.7 1665 V1728 M2081 1665 V1728 M2125 1665 V1728 M2341 1665 V1807 M2365 1665 V1728 M2386 1665 V1728"/>
<path d="M1986.7 1681.7 H2125 M1955 1706 H2125 M2365 1680.7 H2553 M2365 1696.7 H2553 M2365 1712.3 H2553 M2341 1741.5 H2553 M2341 1781.7 H2553 M2341 1795 H2553"/>
</g>
<g class="t" fill="#000" font-size="9">
<text x="2004" y="1660.5" textLength="26" lengthAdjust="spacingAndGlyphs">CODIGO</text>
<text x="2073" y="1660.5" textLength="22" lengthAdjust="spacingAndGlyphs">MARCA</text>
<text x="2109" y="1660.5" textLength="18" lengthAdjust="spacingAndGlyphs">UNIDS.</text>
<text x="2226" y="1660.5" textLength="54" lengthAdjust="spacingAndGlyphs">DENOMINACION</text>
<text x="2348" y="1660.5" textLength="40" lengthAdjust="spacingAndGlyphs">MATERIAL</text>
<text x="2404.6" y="1660.5" textLength="20" lengthAdjust="spacingAndGlyphs">PESO</text>
<text x="2478" y="1660.5" textLength="66" lengthAdjust="spacingAndGlyphs">OBSERVACIONES</text>
</g>
<g class="n" fill="#000" font-weight="bold">
<text x="1958" y="1678" font-size="13" font-weight="normal">A1</text>
<text x="1988" y="1677" font-size="7" textLength="28" lengthAdjust="spacingAndGlyphs">PROYECTO</text>
<text x="2035" y="1677" font-size="7" textLength="28" lengthAdjust="spacingAndGlyphs">DIBUJADO</text>
<text x="2082" y="1677" font-size="7" textLength="28" lengthAdjust="spacingAndGlyphs">COMPROB</text>
<text x="1957" y="1703" font-size="7" textLength="18" lengthAdjust="spacingAndGlyphs">FECHA</text>
<text x="1957" y="1726" font-size="7" textLength="17" lengthAdjust="spacingAndGlyphs">FIRMA</text>
<text x="2039" y="1720" font-size="8" textLength="24" lengthAdjust="spacingAndGlyphs">Maximo</text>
<text x="1957" y="1747" font-size="6.5" textLength="20" lengthAdjust="spacingAndGlyphs">ESCALA</text>
<text x="1961" y="1762" font-size="6.5">1:45</text>
<text transform="translate(2357 1720) rotate(-90)" font-size="8" textLength="44" lengthAdjust="spacingAndGlyphs">MODIFICAC.</text>
<text x="2373" y="1677" font-size="8">A</text>
<text x="2373" y="1693" font-size="8">B</text>
<text x="2373" y="1709" font-size="8">C</text>
<text x="2373" y="1725" font-size="8">D</text>
<text x="2343" y="1738" font-size="7">CAPA:</text>
<text x="2343" y="1792" font-size="7" textLength="58" lengthAdjust="spacingAndGlyphs">SUSTITUIDO POR:</text>
<text x="2343" y="1804.5" font-size="7" textLength="48" lengthAdjust="spacingAndGlyphs">SUSTITUYE A:</text>
</g>
<g class="n" fill="#000">
<text x="2057" y="1772" font-size="27" textLength="180" lengthAdjust="spacingAndGlyphs">PLANO GENERAL</text>
<text x="2347" y="1772" font-size="27" textLength="202" lengthAdjust="spacingAndGlyphs">TS----08040-300-H/R-00</text>
<text x="2142" y="1682" font-size="13" textLength="68" lengthAdjust="spacingAndGlyphs">INDUSTRIAS</text>
<text x="2298" y="1716" font-size="10" textLength="20" lengthAdjust="spacingAndGlyphs">S.A.L</text>
</g>
<path d="M2137.7 1703 V1672 H2141" stroke="#000" stroke-width="1.5" fill="none"/>
<text x="2137" y="1719" font-family="Liberation Sans, sans-serif" font-weight="bold" font-size="46" fill="#fff" stroke="#000" stroke-width="1.8" textLength="158" lengthAdjust="spacingAndGlyphs">Laneko</text>
</svg>
</body></html>
